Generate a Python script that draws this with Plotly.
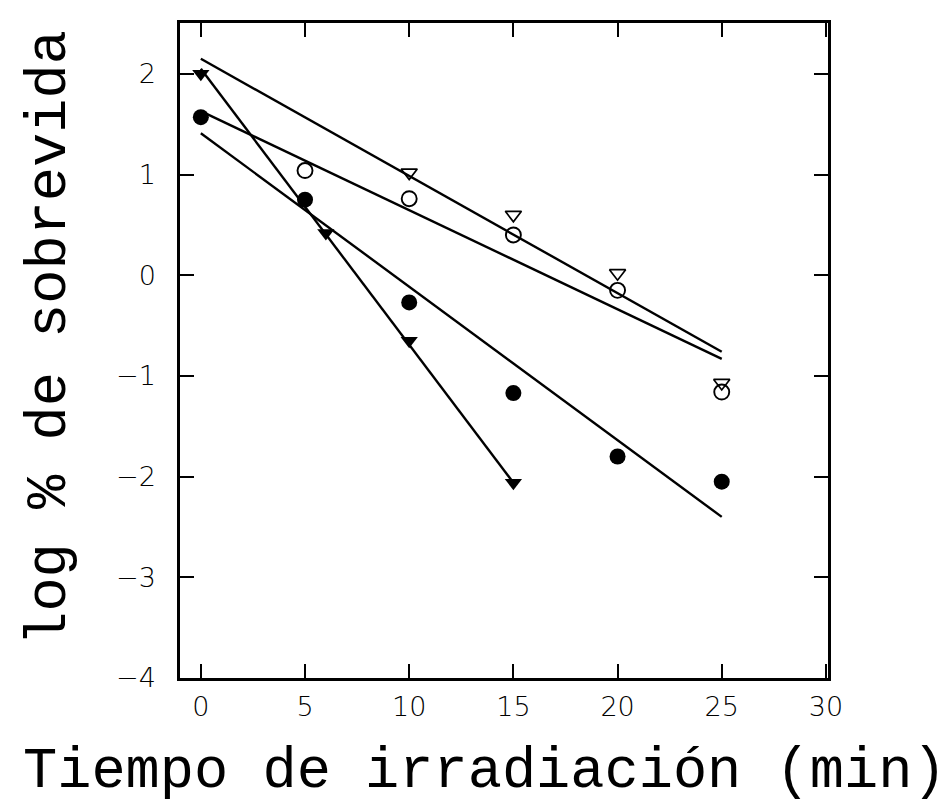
import plotly.graph_objects as go

# Data
t_filled_circle = [0, 5, 10, 15, 20, 25]
y_filled_circle = [1.57, 0.75, -0.27, -1.17, -1.80, -2.05]

t_open_circle = [5, 10, 15, 20, 25]
y_open_circle = [1.04, 0.76, 0.40, -0.15, -1.16]

t_open_tri = [10, 15, 20, 25]
y_open_tri = [1.02, 0.60, 0.02, -1.07]

t_filled_tri = [0, 6, 10, 15]
y_filled_tri = [2.00, 0.42, -0.65, -2.06]

# Regression lines (end points)
fit_open_tri_x = [0, 25]
fit_open_tri_y = [2.15, -0.76]
fit_open_circle_x = [0, 25]
fit_open_circle_y = [1.63, -0.83]
fit_filled_circle_x = [0, 25]
fit_filled_circle_y = [1.41, -2.40]
fit_filled_tri_x = [0, 15]
fit_filled_tri_y = [2.05, -2.06]

x_ticks = [0, 5, 10, 15, 20, 25, 30]
y_ticks = [-4, -3, -2, -1, 0, 1, 2]

BLACK = "#000000"
LW = 2.4

fig = go.Figure()

for fx, fy in [(fit_open_tri_x, fit_open_tri_y),
               (fit_open_circle_x, fit_open_circle_y),
               (fit_filled_circle_x, fit_filled_circle_y),
               (fit_filled_tri_x, fit_filled_tri_y)]:
    fig.add_trace(go.Scatter(x=fx, y=fy, mode="lines",
                             line=dict(color=BLACK, width=LW),
                             showlegend=False, hoverinfo="skip"))

fig.add_trace(go.Scatter(x=t_open_tri, y=y_open_tri, mode="markers",
                         marker=dict(symbol="triangle-down-open", size=14,
                                     color=BLACK, line=dict(width=1.7, color=BLACK)),
                         showlegend=False))
fig.add_trace(go.Scatter(x=t_open_circle, y=y_open_circle, mode="markers",
                         marker=dict(symbol="circle-open", size=15,
                                     color=BLACK, line=dict(width=1.9, color=BLACK)),
                         showlegend=False))
fig.add_trace(go.Scatter(x=t_filled_circle, y=y_filled_circle, mode="markers",
                         marker=dict(symbol="circle", size=16, color=BLACK,
                                     line=dict(width=0)),
                         showlegend=False))
fig.add_trace(go.Scatter(x=t_filled_tri, y=y_filled_tri, mode="markers",
                         marker=dict(symbol="triangle-down", size=15, color=BLACK,
                                     line=dict(width=0)),
                         showlegend=False))

axis_common = dict(
    showgrid=False, zeroline=False,
    showline=True, linecolor=BLACK, linewidth=2.5,
    mirror="ticks", ticks="inside", ticklen=14, tickwidth=2, tickcolor=BLACK,
    tickfont=dict(family="DejaVu Sans", size=27, color=BLACK, weight=200),
)

fig.update_xaxes(range=[-1.0, 30.1], tickmode="array", tickvals=x_ticks,
                 ticktext=[str(v) for v in x_ticks], ticklabelstandoff=3,
                 **axis_common)
fig.update_yaxes(range=[-4.0, 2.505], tickmode="array", tickvals=y_ticks,
                 ticktext=[("\u2212" + str(-v)) if v < 0 else str(v) for v in y_ticks],
                 ticklabelstandoff=16, **axis_common)

title_font = dict(family="Liberation Mono", size=57, color=BLACK)
fig.add_annotation(text="Tiempo de irradiación (min)", xref="paper", yref="paper",
                   x=0.470, y=-0.143, xanchor="center", yanchor="middle",
                   showarrow=False, font=title_font)
fig.add_annotation(text="log % de sobrevida", xref="paper", yref="paper",
                   x=-0.200, y=0.52, xanchor="center", yanchor="middle",
                   textangle=-90, showarrow=False, font=title_font)

fig.update_layout(
    width=949, height=805,
    margin=dict(l=172, r=129, t=13, b=135),
    paper_bgcolor="white", plot_bgcolor="white",
    showlegend=False,
)

fig.write_html("out.html")
